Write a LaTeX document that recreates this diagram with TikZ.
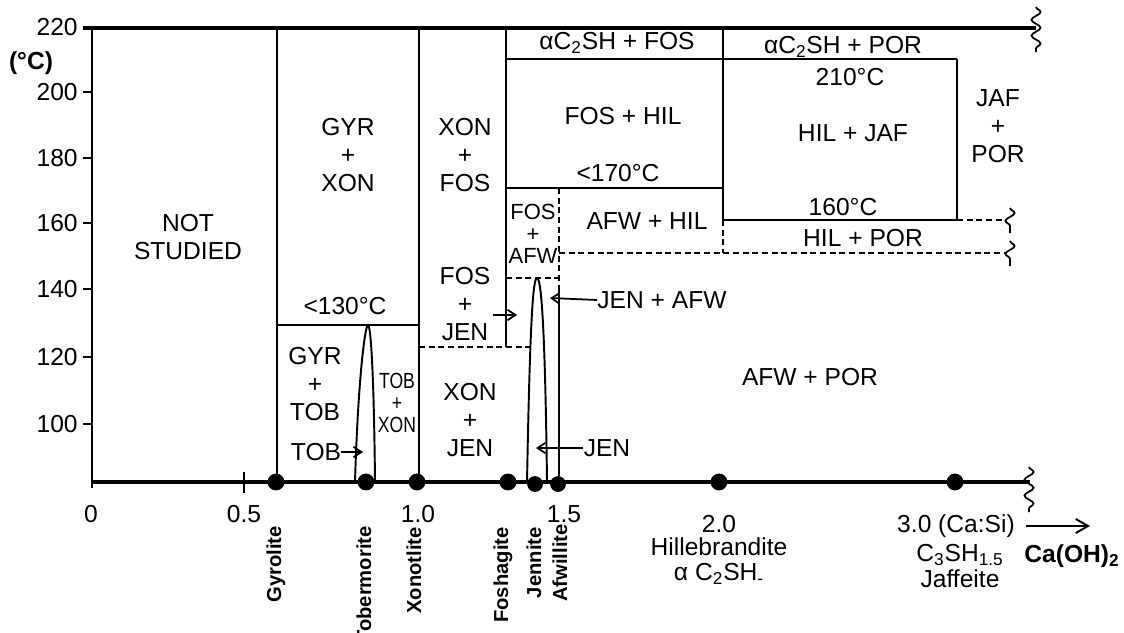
\documentclass[tikz,border=0pt]{standalone}
\usepackage{fontspec}
\setmainfont{Liberation Sans}
\usetikzlibrary{arrows.meta,decorations.pathmorphing}
\begin{document}
\begin{tikzpicture}[x=0.02cm,y=-0.02cm,
  ln/.style={line width=1.1pt},
  thk/.style={line width=1.8pt},
  dsh/.style={line width=1.1pt,dash pattern=on 3.5pt off 2pt},
  lab/.style={font=\fontsize{14}{16}\selectfont,align=center,inner sep=0pt},
  sml/.style={font=\fontsize{12.5}{12.6}\selectfont,align=center,inner sep=0pt},
  rot/.style={font=\bfseries\fontsize{11.5}{13}\selectfont,rotate=90,anchor=east,inner sep=0pt},
  dot/.style={circle,fill=black,inner sep=0pt,minimum size=9.6pt},
  arr/.style={line width=1pt,-{Straight Barb[length=4.5pt,width=6pt]}},
  wig/.style={line width=1pt,decorate,decoration={snake,amplitude=2.6pt,segment length=9pt}}]
\useasboundingbox (0,0) rectangle (1124,632);

% frame lines
\draw[thk] (83,28) -- (1036,28);
\draw[thk] (92,482) -- (1030,482);
\draw[ln] (92,28) -- (92,488);
\draw[ln] (277,28) -- (277,482);
\draw[ln] (419,28) -- (419,482);
\draw[ln] (277,325) -- (419,325);
\draw[ln] (506,28) -- (506,347);
\draw[dsh] (419,347) -- (530,347);
\draw[dsh] (506,278) -- (559,278);
\draw[ln] (506,188) -- (723,188);
\draw[ln] (506,59) -- (957,59);
\draw[ln] (723,28) -- (723,220);
\draw[dsh] (723,220) -- (723,253);
\draw[ln] (723,220) -- (957,220) -- (957,59);
\draw[dsh] (957,220) -- (1006,220);
\draw[dsh] (559,253) -- (1006,253);
\draw[dsh] (559,188) -- (559,285);
\draw[ln] (559,285) -- (559,482);

% spikes
\draw[ln] (355,482) .. controls (358,380) and (365,325) .. (368,325)
                    .. controls (371,325) and (374,380) .. (375,482);
\draw[ln] (527,482) .. controls (530,320) and (533,278) .. (537,278)
                    .. controls (541,278) and (545,320) .. (547,482);

% wiggles
\draw[wig] (1036,7) -- (1036,52);
\draw[wig] (1029,467) -- (1029,512);
\draw[wig] (1010,208) -- (1010,233);
\draw[wig] (1010,241) -- (1010,266);

% y axis ticks and labels
\foreach \yy/\tt in {92/200,158/180,223/160,289/140,357/120,424/100} {
  \draw[ln] (83,\yy) -- (92,\yy);
  \node[lab,anchor=east] (y\tt) at (78,\yy) {\tt};
}
\node[lab,anchor=east] (y220) at (78,27) {220};
\node[lab,font=\bfseries\fontsize{14}{16}\selectfont] (unit) at (31,63) {(°C)};

% x axis
\draw[ln] (244,472) -- (244,493);
\node[lab] (x0) at (91,514) {0};
\node[lab] (x05) at (244,514) {0.5};
\node[lab] (x10) at (418,514) {1.0};
\node[lab] (x15) at (564,514) {1.5};
\node[lab] (x20) at (719,524) {2.0};

% dots
\node[dot] (dgyr) at (276,482) {};
\node[dot] (dtob) at (366,482) {};
\node[dot] (dxon) at (417,482) {};
\node[dot] (dfos) at (508,482) {};
\node[dot,minimum size=9pt] (djen) at (535,484) {};
\node[dot,minimum size=9pt] (dafw) at (558,484) {};
\node[dot] (dhil) at (719,482) {};
\node[dot] (djaf) at (955,482) {};

% rotated mineral names
\node[rot] (ngyr) at (276,526) {Gyrolite};
\node[rot] (ntob) at (364,526) {Tobermorite};
\node[rot] (nxon) at (414,527) {Xonotlite};
\node[rot] (nfos) at (503,527) {Foshagite};
\node[rot] (njen) at (534,527) {Jennite};
\node[rot] (nafw) at (560,524) {Afwillite};

% bottom right labels
\node[lab] (nhil) at (719,561) {Hillebrandite\\[-2pt]α C\textsubscript{2}SH\textsubscript{-}};
\node[lab] (x30) at (956,526) {3.0 (Ca:Si)};
\node[lab] (njaf) at (960,566) {C\textsubscript{3}SH\textsubscript{1.5}\\[-1pt]Jaffeite};
\node[lab,font=\bfseries\fontsize{14}{16}\selectfont] (caoh) at (1072,556) {Ca(OH)\textsubscript{2}};
\coordinate (ca1) at (1026,526);
\coordinate (ca2) at (1090,526);
\draw[line width=1.1pt,-{Straight Barb[length=7pt,width=8pt]}] (ca1) -- (ca2);

% region labels
\node[lab] (notst) at (188,237) {NOT\\STUDIED};
\node[lab] (gyrxon) at (348,155) {GYR\\+\\XON};
\node[lab] (xonfos) at (465,155) {XON\\+\\FOS};
\node[lab] (fosjen) at (465,304) {FOS\\+\\JEN};
\node[lab] (gyrtob) at (315,384) {GYR\\+\\TOB};
\node[sml,xscale=0.8] (tobxon) at (397,403) {TOB\\+\\XON};
\node[lab] (xonjen) at (470,420) {XON\\+\\JEN};
\node[lab] (lt130) at (345,306) {<130°C};
\node[sml] (fosafw) at (533,234) {FOS\\+\\AFW};
\node[lab] (c2shfos) at (617,43) {αC\textsubscript{2}SH + FOS};
\node[lab] (foshil) at (623,116) {FOS + HIL};
\node[lab] (lt170) at (618,173) {<170°C};
\node[lab] (afwhil) at (647,221) {AFW + HIL};
\node[lab] (c2shpor) at (843,47) {αC\textsubscript{2}SH + POR};
\node[lab] (t210) at (850,77) {210°C};
\node[lab] (hiljaf) at (853,133) {HIL + JAF};
\node[lab] (t160) at (843,207) {160°C};
\node[lab] (hilpor) at (863,238) {HIL + POR};
\node[lab] (jafpor) at (998,126) {JAF\\+\\POR};
\node[lab] (afwpor) at (810,377) {AFW + POR};
\node[lab] (jenafw) at (662,300) {JEN + AFW};
\node[lab] (jen) at (607,448) {JEN};
\node[lab] (tob) at (316,452) {TOB};

% pointer arrows
\coordinate (ptob) at (363,452);
\draw[arr] (tob.east) -- (ptob);
\coordinate (pfj1) at (493,315);
\coordinate (pfj2) at (517,315);
\draw[arr] (pfj1) -- (pfj2);
\coordinate (pja) at (550,298);
\draw[arr] (jenafw.west) -- (pja);
\coordinate (pjen) at (536,448);
\draw[arr] (jen.west) -- (pjen);
\end{tikzpicture}
\end{document}
